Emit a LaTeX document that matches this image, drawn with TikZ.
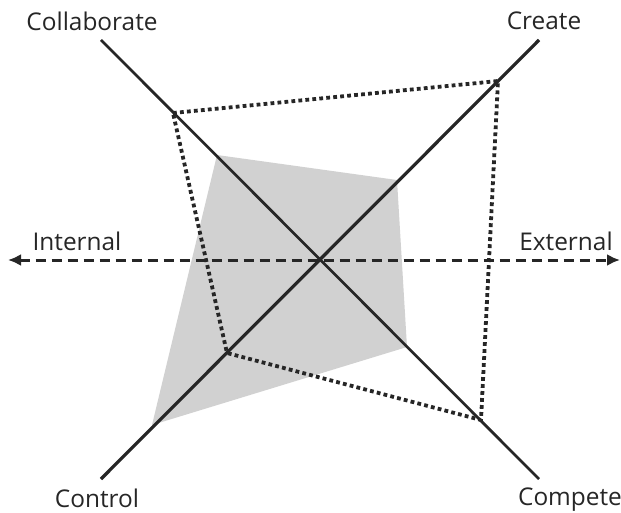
\documentclass[tikz,border=0pt]{standalone}
\usepackage{fontspec}
\setmainfont{Open Sans}
\usetikzlibrary{arrows.meta}
\tikzset{
  axislabel/.style={font=\fontsize{24.5}{26}\selectfont, text=black!85, inner sep=0pt},
  axisline/.style={draw=black!85, line width=2.7bp},
  scoreline/.style={draw=black!85, line width=3.8bp, dash pattern=on 3.8bp off 3.2bp},
}
\begin{document}
\begin{tikzpicture}[x=1bp, y=-1bp]
  \useasboundingbox (0, 0) rectangle (621, 513);
  \def\cx{320}
  \def\cy{260}
  % axis ends
  \coordinate (O) at (\cx, \cy);
  \coordinate (collab) at (101, 40);
  \coordinate (create) at (539, 40);
  \coordinate (compete) at (539, 479);
  \coordinate (control) at (101, 479);
  \coordinate (internal) at (8, \cy);
  \coordinate (external) at (620, \cy);
  % shaded profile
  \fill[black!18] (217, 155) -- (397, 180) -- (407, 347) -- (152, 425) -- cycle;
  \draw[axisline] (collab) -- (compete);
  \draw[axisline, line width=3.2bp] (control) -- (create);
  \draw[black!85, line width=3bp, dash pattern=on 10bp off 6bp,
        {Latex[length=13bp, width=12bp]}-{Latex[length=13bp, width=12bp]}] (internal) -- (external);
  % dotted profile
  \coordinate (p1) at (173, 113);
  \coordinate (p2) at (498, 81);
  \coordinate (p3) at (481, 420);
  \coordinate (p4) at (227, 353);
  \draw[scoreline] (p1) -- (p2) -- (p3) -- (p4) -- cycle;
  % labels
  \node[axislabel] (lcollab) at (92, 21) {Collaborate};
  \node[axislabel] (lcreate) at (544, 21) {Create};
  \node[axislabel] (lcontrol) at (97, 498) {Control};
  \node[axislabel] (lcompete) at (570, 500) {Compete};
  \node[axislabel] (linternal) at (77, 241) {Internal};
  \node[axislabel] (lexternal) at (566, 241) {External};
\end{tikzpicture}
\end{document}
